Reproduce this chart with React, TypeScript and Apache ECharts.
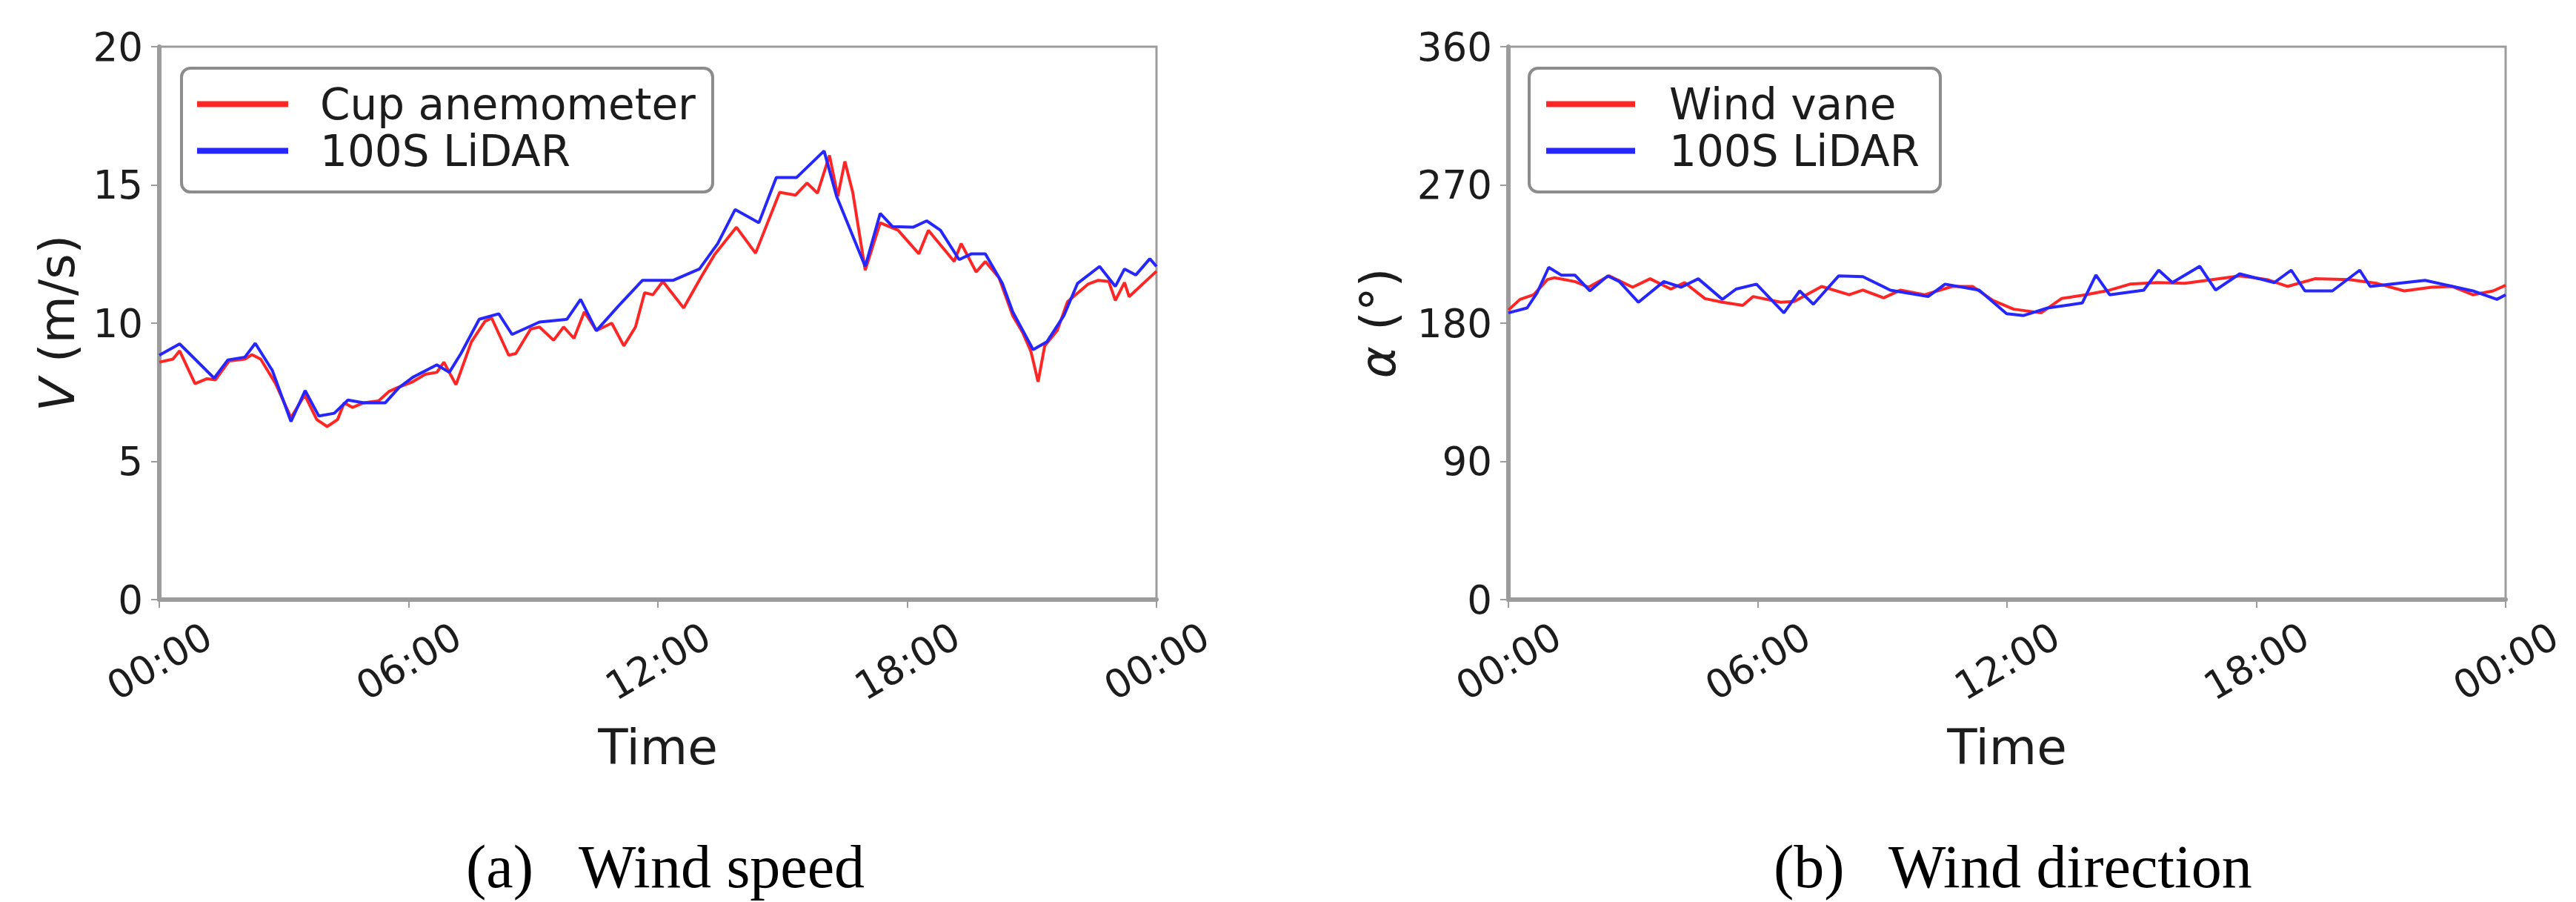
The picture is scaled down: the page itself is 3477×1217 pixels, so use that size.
import React, { useEffect, useRef } from "react";
import * as echarts from "echarts";

// ---------- data ----------
const xTickHours = [0, 6, 12, 18, 24];

const speedCupTime = [0,0.33,0.49,0.86,1.15,1.35,1.68,2.06,2.23,2.44,2.80,3.17,3.50,3.79,4.04,4.29,4.45,4.65,4.92,5.28,5.53,5.74,6.10,6.40,6.68,6.85,7.14,7.51,7.84,8.0,8.41,8.58,8.94,9.15,9.49,9.73,9.98,10.23,10.52,10.89,11.18,11.46,11.68,11.88,12.12,12.62,13.03,13.36,13.89,14.35,14.93,15.31,15.59,15.84,16.13,16.33,16.50,16.69,16.99,17.35,17.78,18.28,18.51,19.13,19.30,19.66,19.88,20.21,20.54,20.78,20.98,21.15,21.31,21.61,21.86,22.35,22.60,22.85,23.01,23.23,23.34,24.0];
const speedCup = [8.59,8.70,9.0,7.81,7.99,7.95,8.63,8.70,8.86,8.70,7.81,6.58,7.40,6.51,6.26,6.51,7.12,6.95,7.12,7.19,7.53,7.67,7.88,8.15,8.22,8.59,7.77,9.32,10.07,10.18,8.84,8.90,9.79,9.86,9.38,9.86,9.45,10.41,9.73,10.0,9.18,9.86,11.10,11.03,11.51,10.55,11.64,12.47,13.47,12.53,14.73,14.63,15.07,14.70,16.07,14.59,15.85,14.73,11.92,13.63,13.36,12.51,13.36,12.23,12.88,11.85,12.23,11.64,10.27,9.66,8.97,7.88,9.18,9.73,10.78,11.41,11.55,11.51,10.82,11.47,10.96,11.88];

const speedLidarTime = [0,0.49,1.32,1.65,2.06,2.31,2.72,3.17,3.51,3.84,4.21,4.54,4.92,5.44,5.77,6.10,6.68,6.98,7.26,7.70,8.17,8.49,9.15,9.81,10.14,10.52,11.05,11.63,12.37,13.0,13.44,13.86,14.43,14.85,15.34,16.0,16.30,16.99,17.35,17.65,18.14,18.47,18.80,19.25,19.55,19.88,20.29,20.54,21.03,21.36,21.77,22.10,22.63,23.01,23.23,23.50,23.84,24.0];
const speedLidar = [8.84,9.25,8.01,8.67,8.77,9.27,8.29,6.44,7.56,6.64,6.74,7.22,7.12,7.12,7.67,8.04,8.49,8.22,8.90,10.14,10.34,9.59,10.04,10.14,10.86,9.73,10.62,11.55,11.55,11.96,12.88,14.11,13.63,15.27,15.27,16.23,14.59,12.05,13.97,13.49,13.47,13.70,13.36,12.30,12.51,12.51,11.44,10.41,9.04,9.32,10.27,11.44,12.05,11.33,11.96,11.74,12.33,12.05];

const dirVaneTime = [0,0.28,0.61,0.94,1.11,1.60,1.93,2.42,2.99,3.41,3.91,4.24,4.73,5.15,5.64,5.89,6.55,6.88,7.54,8.20,8.53,9.03,9.44,10.02,10.68,11.17,11.66,12.16,12.82,13.31,13.89,14.47,14.96,15.62,16.28,16.94,17.60,18.26,18.75,19.41,20.24,20.90,21.56,22.22,22.71,23.21,23.70,24];
const dirVane = [188.6,195.5,198.5,208.4,209.6,207.1,203.4,210.8,203.4,208.9,202.2,206.4,196.0,193.6,191.6,197.3,193.6,194.1,203.9,198.5,201.5,196.5,201.5,198.5,203.9,203.9,194.8,189.1,186.7,196.0,198.5,201.5,205.4,206.4,205.9,208.4,210.8,208.4,203.9,208.9,208.4,205.9,201.0,203.4,203.9,198.5,201.0,204.7];

const dirLidarTime = [0,0.45,0.69,0.97,1.27,1.60,1.96,2.39,2.67,3.13,3.74,4.16,4.57,5.15,5.48,5.97,6.63,7.01,7.34,7.95,8.53,9.19,10.10,10.51,11.33,11.99,12.40,12.98,13.81,14.14,14.47,15.29,15.65,15.98,16.64,17.02,17.60,18.43,18.84,19.17,19.83,20.49,20.74,22.06,23.21,23.79,24];
const dirLidar = [186.7,189.9,199.7,216.3,211.3,211.3,201.0,210.8,207.1,193.6,207.1,203.4,208.9,195.5,202.2,205.4,186.7,201.0,192.3,210.8,210.3,201.5,197.3,205.4,201.5,186.2,185.0,189.9,193.1,211.3,198.5,201.5,214.5,206.4,217.0,201.5,212.1,206.4,214.5,201.0,201.0,214.5,203.9,207.9,201.0,195.5,198.5];

const speedTicks = { min: 0, max: 20, interval: 5 };
const dirTicks = { min: 0, max: 360, interval: 90 };

const zip = (t: number[], v: number[]) => t.map((x, i) => [x, v[i]]);
const hourLabel = (v: number) => {
  const h = Math.round(v) % 24;
  return (h < 10 ? "0" : "") + h + ":00";
};

const RED = "#ff2626";
const BLUE = "#2626ff";
const SPINE = "#9c9c9c";
const TXT = "#1c1c1c";
const SANS = "DejaVu Sans";

function xAxisFor(gridIndex: number) {
  return {
    type: "value",
    gridIndex,
    min: xTickHours[0],
    max: xTickHours[xTickHours.length - 1],
    interval: 6,
    name: "Time",
    nameLocation: "middle",
    nameGap: 166,
    nameTextStyle: { fontSize: 66, fontFamily: SANS, color: TXT, verticalAlign: "top" },
    axisLine: { show: true, lineStyle: { color: SPINE, width: 6 } },
    axisTick: { show: true, length: 11, lineStyle: { color: SPINE, width: 2 } },
    axisLabel: {
      rotate: 30,
      formatter: hourLabel,
      fontSize: 53,
      fontFamily: SANS,
      color: TXT,
      align: "center",
      verticalAlign: "middle",
      margin: 83,
      showMinLabel: true,
      showMaxLabel: true,
    },
    splitLine: { show: false },
  };
}

function yAxisFor(gridIndex: number, ticks: any, name: string, gap: number) {
  return {
    type: "value",
    gridIndex,
    min: ticks.min,
    max: ticks.max,
    interval: ticks.interval,
    name,
    nameLocation: "middle",
    nameGap: gap,
    nameRotate: 90,
    nameTextStyle: {
      fontSize: 66,
      fontFamily: SANS,
      color: TXT,
      rich: { i: { fontSize: 66, fontFamily: SANS, fontStyle: "italic", color: TXT } },
    },
    axisLine: { show: true, lineStyle: { color: SPINE, width: 6 } },
    axisTick: { show: true, length: 11, lineStyle: { color: SPINE, width: 2 } },
    axisLabel: { fontSize: 53, fontFamily: SANS, color: TXT, margin: 22 },
    splitLine: { show: false },
  };
}

function legendFor(names: string[], left: number, pad: number[], itemWidth: number, textPadLeft: number) {
  return {
    data: names,
    orient: "vertical",
    left,
    top: 92,
    padding: pad,
    itemGap: 0,
    itemWidth,
    itemHeight: 8,
    icon: "rect",
    borderColor: "#8c8c8c",
    borderWidth: 4,
    borderRadius: 12,
    backgroundColor: "#ffffff",
    selectedMode: false,
    textStyle: {
      fontSize: 58,
      fontFamily: SANS,
      color: TXT,
      lineHeight: 63,
      padding: [0, 0, 0, textPadLeft],
    },
  };
}

function lineSeries(name: string, color: string, idx: number, data: number[][]) {
  return {
    type: "line",
    name,
    xAxisIndex: idx,
    yAxisIndex: idx,
    data,
    symbol: "none",
    lineStyle: { color, width: 4 },
    itemStyle: { color },
    z: color === BLUE ? 3 : 2,
  };
}

export default function App() {
  const ref = useRef<HTMLDivElement>(null);
  useEffect(() => {
    if (!ref.current) return;
    const chart = echarts.init(ref.current, undefined, { renderer: "svg" });
    chart.setOption({
      animation: false,
      backgroundColor: "#ffffff",
      grid: [
        { left: 215, top: 63, width: 1346, height: 746, show: true, borderColor: SPINE, borderWidth: 3, backgroundColor: "transparent" },
        { left: 2036, top: 63, width: 1346, height: 746, show: true, borderColor: SPINE, borderWidth: 3, backgroundColor: "transparent" },
      ],
      xAxis: [xAxisFor(0), xAxisFor(1)],
      yAxis: [
        yAxisFor(0, speedTicks, "{i|V} (m/s)", 105),
        yAxisFor(1, dirTicks, "{i|α} (°)", 143),
      ],
      legend: [
        legendFor(["Cup anemometer", "100S LiDAR"], 245, [17, 23, 24, 21], 123, 38),
        legendFor(["Wind vane", "100S LiDAR"], 2064, [17, 28, 24, 23], 120, 41),
      ],
      series: [
        lineSeries("Cup anemometer", RED, 0, zip(speedCupTime, speedCup)),
        lineSeries("100S LiDAR", BLUE, 0, zip(speedLidarTime, speedLidar)),
        lineSeries("Wind vane", RED, 1, zip(dirVaneTime, dirVane)),
        lineSeries("100S LiDAR", BLUE, 1, zip(dirLidarTime, dirLidar)),
      ],
      graphic: [
        { type: "text", left: 629, top: 1128, style: { text: "(a)", font: "82px 'Liberation Serif'", fill: "#000" } },
        { type: "text", left: 781, top: 1128, style: { text: "Wind speed", font: "82px 'Liberation Serif'", fill: "#000" } },
        { type: "text", left: 2394, top: 1128, style: { text: "(b)", font: "82px 'Liberation Serif'", fill: "#000" } },
        { type: "text", left: 2549, top: 1128, style: { text: "Wind direction", font: "82px 'Liberation Serif'", fill: "#000" } },
      ],
    });
    return () => chart.dispose();
  }, []);
  return (
    <div
      ref={ref}
      style={{ position: "fixed", left: 0, top: 0, width: 3477, height: 1217, background: "#fff" }}
    />
  );
}
